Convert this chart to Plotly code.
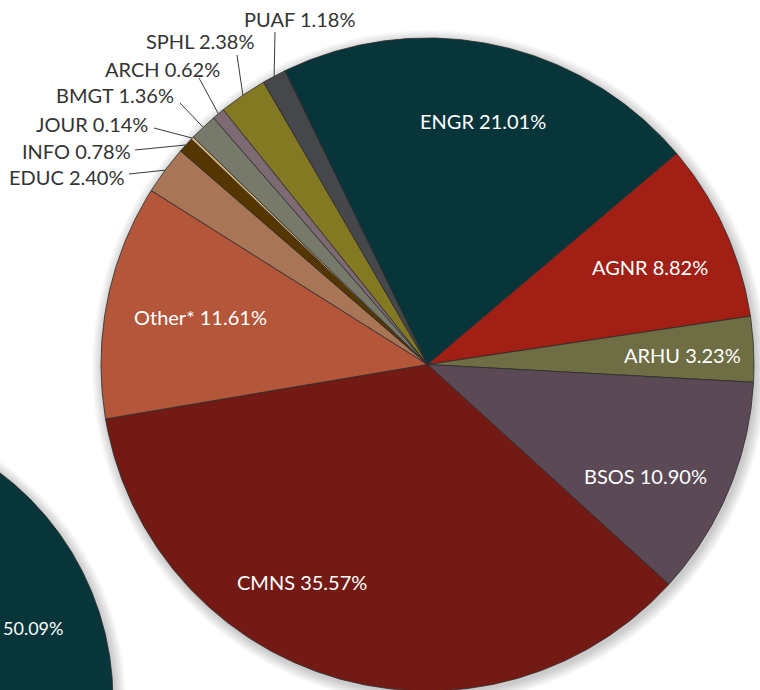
import numpy as np
import plotly.graph_objects as go

# ---------------- data ----------------
schools = ["ENGR", "AGNR", "ARHU", "BSOS", "CMNS", "Other*", "EDUC",
           "INFO", "JOUR", "BMGT", "ARCH", "SPHL", "PUAF"]
shares = [21.01, 8.82, 3.23, 10.90, 35.57, 11.61, 2.40,
          0.78, 0.14, 1.36, 0.62, 2.38, 1.18]
colors = ["#07353a", "#a11f14", "#6e6d44", "#5b4a55", "#731a15", "#b3563a", "#a87656",
          "#553600", "#d9b674", "#777a6b", "#7e6a73", "#847923", "#46474a"]

# partially visible second pie (only one slice is in view)
second_shares = [50.09]
second_colors = ["#07353a"]

# ---------------- layout constants ----------------
W, H = 760, 690
CX, CY, R = 427.5, 364.5, 326.5
START = -25.9          # degrees clockwise from 12 o'clock where first slice starts
CX2, CY2, R2 = -172.0, 700.0, 285.0
START2 = 0.0

inside = {  # label radius, angle nudge (deg)
    "ENGR": (250, 1.0), "AGNR": (243, 0.7), "ARHU": (255, 0.6),
    "BSOS": (245, 4.3), "CMNS": (251, 13.6), "Other*": (232, 0.5),
}
outside = {  # text right x, text center y, leader start x, y
    "EDUC": (127, 177, 129, 174), "INFO": (133, 151, 135, 150),
    "JOUR": (150, 124, 154, 128), "BMGT": (176, 95, 180, 103),
    "ARCH": (222, 69, 199, 78), "SPHL": (256, 41, 237, 55),
    "PUAF": (357, 19, 275, 32),
}

FONT = "Lato, 'Open Sans', sans-serif"
FS = 20
BORDER = "#2b2b2b"


def pt(cx, cy, r, deg):
    a = np.radians(deg)
    return cx + r * np.sin(a), cy - r * np.cos(a)


def wedge(cx, cy, r, a0, a1):
    n = max(int(abs(a1 - a0) * 2) + 2, 3)
    angs = np.linspace(a0, a1, n)
    xs, ys = pt(cx, cy, r, angs)
    return [cx] + list(xs) + [cx], [cy] + list(ys) + [cy]


fig = go.Figure()
shapes = []

# soft drop shadows
for (cx, cy, r) in [(CX, CY, R), (CX2, CY2, R2)]:
    for i in range(9):
        rr = r + 0.5 + i * 1.3
        shapes.append(dict(type="circle", xref="x", yref="y", layer="below",
                           x0=cx + 2 - rr, x1=cx + 2 + rr, y0=cy + 3 - rr, y1=cy + 3 + rr,
                           fillcolor="rgba(0,0,0,0.022)", line=dict(width=0)))

annotations = []

# second pie
a = START2
for v, c in zip(second_shares, second_colors):
    a1 = a + v * 3.6
    xs, ys = wedge(CX2, CY2, R2, a, a1)
    fig.add_trace(go.Scatter(x=xs, y=ys, mode="lines", fill="toself", fillcolor=c,
                             line=dict(color=BORDER, width=0.8), hoverinfo="skip"))
    annotations.append(dict(x=1, y=628, xref="x", yref="y", text=f"{v:.2f}%",
                            showarrow=False, xanchor="left", yanchor="middle",
                            font=dict(family=FONT, size=FS - 2, color="white")))
    a = a1

# main pie
a = START
for lab, v, c in zip(schools, shares, colors):
    a1 = a + v * 3.6
    xs, ys = wedge(CX, CY, R, a, a1)
    fig.add_trace(go.Scatter(x=xs, y=ys, mode="lines", fill="toself", fillcolor=c,
                             line=dict(color=BORDER, width=0.8), hoverinfo="skip"))
    mid = (a + a1) / 2
    txt = f"{lab} {v:.2f}%"
    if lab in inside:
        lr, nudge = inside[lab]
        lx, ly = pt(CX, CY, lr, mid + nudge)
        annotations.append(dict(x=lx, y=ly, xref="x", yref="y", text=txt, showarrow=False,
                                xanchor="center", yanchor="middle",
                                font=dict(family=FONT, size=FS, color="white")))
    else:
        tx, ty, sx, sy = outside[lab]
        ex, ey = pt(CX, CY, R, mid)
        fig.add_trace(go.Scatter(x=[sx, ex], y=[sy, ey], mode="lines",
                                 line=dict(color="#3a3a3a", width=1), hoverinfo="skip"))
        annotations.append(dict(x=tx, y=ty, xref="x", yref="y", text=txt, showarrow=False,
                                xanchor="right", yanchor="middle",
                                font=dict(family=FONT, size=FS, color="#333333")))
    a = a1

fig.update_layout(
    width=W, height=H, margin=dict(l=0, r=0, t=0, b=0),
    paper_bgcolor="white", plot_bgcolor="white", showlegend=False,
    xaxis=dict(range=[0, W], visible=False, fixedrange=True),
    yaxis=dict(range=[H, 0], visible=False, fixedrange=True),
    shapes=shapes, annotations=annotations,
)

fig.write_html("out.html", config={"displayModeBar": False},
               post_script="document.body.style.margin='0';document.body.style.overflow='hidden';")
